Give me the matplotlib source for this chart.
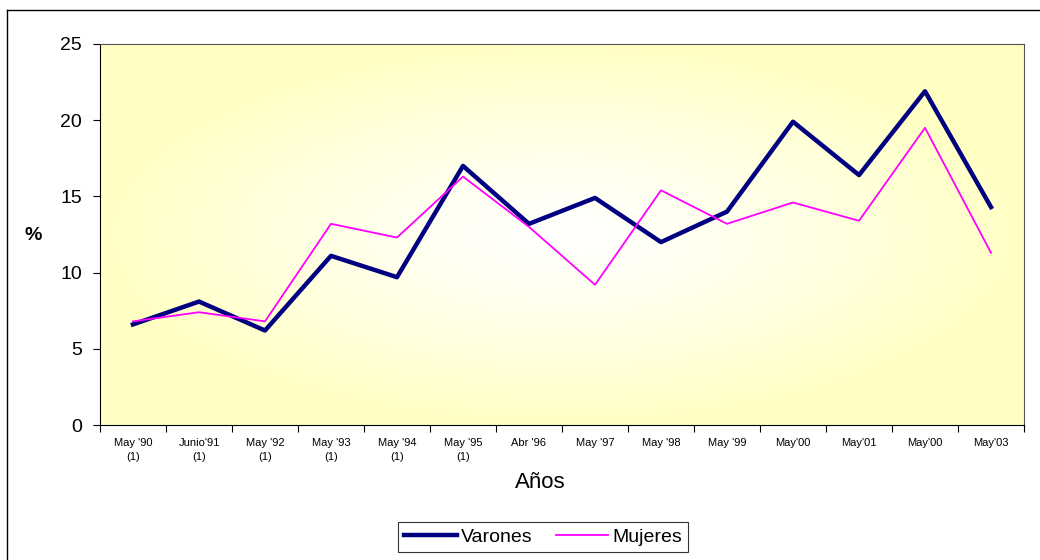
import matplotlib
matplotlib.use("Agg")
import matplotlib.pyplot as plt
from matplotlib.lines import Line2D
import numpy as np

plt.rcParams['font.family'] = ['Liberation Sans', 'DejaVu Sans']

periodos = ["May '90\n(1)", "Junio'91\n(1)", "May '92\n(1)", "May '93\n(1)",
            "May '94\n(1)", "May '95\n(1)", "Abr '96", "May '97", "May '98",
            "May '99", "May'00", "May'01", "May'00", "May'03"]
varones = [6.6, 8.1, 6.2, 11.1, 9.7, 17.0, 13.2, 14.9, 12.0, 14.0, 19.9, 16.4, 21.9, 14.3]
mujeres = [6.8, 7.4, 6.8, 13.2, 12.3, 16.3, 13.0, 9.2, 15.4, 13.2, 14.6, 13.4, 19.5, 11.3]

W, H = 1040, 560
fig = plt.figure(figsize=(W / 100, H / 100), dpi=100)
ax = fig.add_axes([100 / W, 1 - 425 / H, 924 / W, 381 / H])

# gradiente blanco en el centro, amarillo en los bordes
gx, gy = np.meshgrid(np.linspace(-1, 1, 400), np.linspace(-1, 1, 200))
d = np.clip(np.sqrt(gx ** 2 + gy ** 2), 0, 1) ** 1.2
yellow = np.array([1.0, 1.0, 0.77])
img = np.ones((200, 400, 3)) * (1 - d[..., None]) + yellow * d[..., None]
img = np.clip(img, 0, 1)
ax.imshow(img, extent=[0, 1, 0, 1], transform=ax.transAxes, aspect='auto',
          interpolation='bilinear', zorder=0)

x = np.arange(len(periodos))
ax.plot(x, varones, color='#000080', lw=3.2, label='Varones', zorder=3)
ax.plot(x, mujeres, color='#FF00FF', lw=1.3, label='Mujeres', zorder=4)

ax.set_xlim(-0.5, len(periodos) - 0.5)
ax.set_ylim(0, 25)
ax.set_yticks(range(0, 26, 5))
ax.tick_params(axis='y', labelsize=14, length=5, direction='out', width=0.8, pad=8)
ax.set_xticks(np.arange(len(periodos) + 1) - 0.5)
ax.set_xticklabels([])
ax.tick_params(axis='x', which='major', length=5, direction='out', width=0.8)
ax.set_xticks(x, minor=True)
ax.set_xticklabels(periodos, minor=True, fontsize=8, linespacing=1.6)
ax.tick_params(axis='x', which='minor', length=0, pad=9)

for s in ['top', 'right']:
    ax.spines[s].set_color('#555555')
    ax.spines[s].set_linewidth(0.8)
for s in ['left', 'bottom']:
    ax.spines[s].set_color('black')
    ax.spines[s].set_linewidth(0.8)

fig.text(540 / W, 1 - 483 / H, 'Años', fontsize=16, ha='center', va='center')
fig.text(33 / W, 1 - 235 / H, '%', fontsize=14, fontweight='bold',
         ha='center', va='center')

leg = ax.legend(loc='center', bbox_to_anchor=(543 / W, 1 - 537 / H),
                bbox_transform=fig.transFigure, ncol=2, fontsize=14,
                frameon=True, fancybox=False, edgecolor='black',
                handlelength=2.7, columnspacing=1.2, handletextpad=0.2,
                borderpad=0.3)
leg.get_frame().set_linewidth(0.8)

# borde exterior (solo se ven izquierda y arriba)
fig.add_artist(Line2D([7 / W, 7 / W], [0, 1 - 10 / H], color='black', lw=1,
                      transform=fig.transFigure))
fig.add_artist(Line2D([7 / W, 1], [1 - 10 / H, 1 - 10 / H], color='black', lw=1,
                      transform=fig.transFigure))

fig.savefig('out.png', dpi=100)
